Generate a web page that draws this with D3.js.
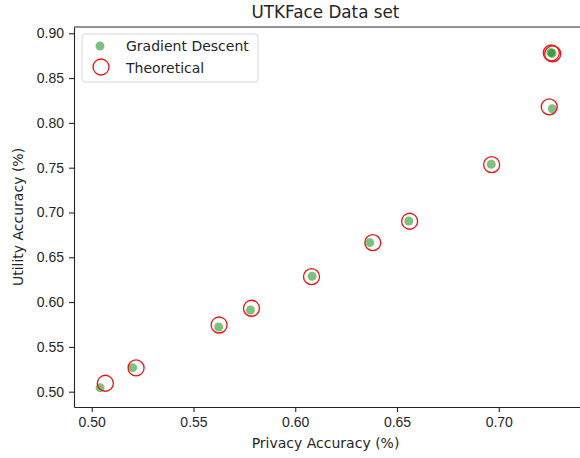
<!DOCTYPE html>
<html lang="en">
<head>
    <meta charset="UTF-8">
    <title>UTKFace Data set</title>
    <script src="https://d3js.org/d3.v7.min.js"></script>
    <style>
        body {
            margin: 0;
            background: #fff;
            font-family: "DejaVu Sans", sans-serif;
        }
        .axis text {
            font-size: 14px;
            fill: #262626;
        }
        .axis path, .axis line {
            stroke: #262626;
            stroke-width: 1.1;
        }
    </style>
</head>
<body>
    <svg width="580" height="458"></svg>
    <script>
        // Gradient Descent results
        const gdPrivacy = [0.5041, 0.5201, 0.5624, 0.5780, 0.6083, 0.6366, 0.6558, 0.6963, 0.7263, 0.7256, 0.7262];
        const gdUtility = [0.5045, 0.5268, 0.5722, 0.5912, 0.6288, 0.6663, 0.6905, 0.7538, 0.8158, 0.8785, 0.8775];

        // Theoretical results
        const thPrivacy = [0.5067, 0.5218, 0.5626, 0.5785, 0.6080, 0.6381, 0.6562, 0.6965, 0.7248, 0.7258, 0.7265];
        const thUtility = [0.5094, 0.5265, 0.5744, 0.5931, 0.6284, 0.6663, 0.6902, 0.7534, 0.8179, 0.8780, 0.8770];

        const xTicks = [0.50, 0.55, 0.60, 0.65, 0.70];
        const yTicks = [0.50, 0.55, 0.60, 0.65, 0.70, 0.75, 0.80, 0.85, 0.90];

        const svg = d3.select("svg");
        const m = {left: 74, right: 581, top: 27, bottom: 407};

        const x = d3.scaleLinear().domain([0.4913, 0.7404]).range([m.left, m.right]);
        const y = d3.scaleLinear().domain([0.4829, 0.907]).range([m.bottom, m.top]);

        // axes
        svg.append("g")
            .attr("class", "axis")
            .attr("transform", `translate(0,${m.bottom})`)
            .call(d3.axisBottom(x).tickValues(xTicks).tickFormat(d3.format(".2f")).tickSize(5).tickPadding(5).tickSizeOuter(0));

        svg.append("g")
            .attr("class", "axis")
            .attr("transform", `translate(${m.left},0)`)
            .call(d3.axisLeft(y).tickValues(yTicks).tickFormat(d3.format(".2f")).tickSize(5).tickPadding(5).tickSizeOuter(0));

        // top spine
        svg.append("line")
            .attr("x1", m.left).attr("x2", m.right)
            .attr("y1", m.top).attr("y2", m.top)
            .attr("stroke", "#262626").attr("stroke-width", 1.1);

        const gd = gdPrivacy.map((p, i) => ({p, u: gdUtility[i]}));
        const th = thPrivacy.map((p, i) => ({p, u: thUtility[i]}));

        // points
        svg.append("g")
            .selectAll("circle")
            .data(gd)
            .enter().append("circle")
            .attr("cx", d => x(d.p))
            .attr("cy", d => y(d.u))
            .attr("r", 4.5)
            .attr("fill", "green")
            .attr("fill-opacity", 0.5);

        svg.append("g")
            .selectAll("circle")
            .data(th)
            .enter().append("circle")
            .attr("cx", d => x(d.p))
            .attr("cy", d => y(d.u))
            .attr("r", 8)
            .attr("fill", "none")
            .attr("stroke", "#ee1111")
            .attr("stroke-width", 1.3);

        // labels
        svg.append("text")
            .attr("x", (m.left + 577) / 2).attr("y", 18)
            .attr("text-anchor", "middle")
            .attr("font-size", 16.8)
            .attr("fill", "#262626")
            .text("UTKFace Data set");

        svg.append("text")
            .attr("x", (m.left + 577) / 2).attr("y", 448)
            .attr("text-anchor", "middle")
            .attr("font-size", 14)
            .attr("fill", "#262626")
            .text("Privacy Accuracy (%)");

        svg.append("text")
            .attr("transform", `translate(23,${(m.top + m.bottom) / 2}) rotate(-90)`)
            .attr("text-anchor", "middle")
            .attr("font-size", 14)
            .attr("fill", "#262626")
            .text("Utility Accuracy (%)");

        // legend
        const legend = svg.append("g").attr("transform", "translate(82,34)");
        legend.append("rect")
            .attr("width", 176).attr("height", 48)
            .attr("rx", 3)
            .attr("fill", "#fff").attr("fill-opacity", 0.8)
            .attr("stroke", "#d6d6d6");
        legend.append("circle")
            .attr("cx", 18).attr("cy", 12).attr("r", 4.5)
            .attr("fill", "green").attr("fill-opacity", 0.5);
        legend.append("circle")
            .attr("cx", 19).attr("cy", 33).attr("r", 8)
            .attr("fill", "none").attr("stroke", "#ee1111").attr("stroke-width", 1.3);
        legend.append("text")
            .attr("x", 44).attr("y", 17)
            .attr("font-size", 14).attr("fill", "#262626")
            .text("Gradient Descent");
        legend.append("text")
            .attr("x", 44).attr("y", 39)
            .attr("font-size", 14).attr("fill", "#262626")
            .text("Theoretical");
    </script>
</body>
</html>
